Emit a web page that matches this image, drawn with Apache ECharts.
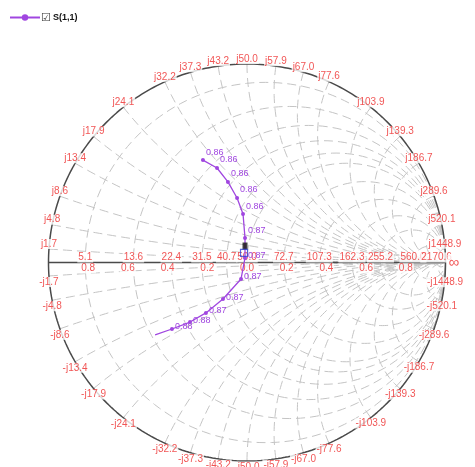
<!DOCTYPE html>
<html><head><meta charset="utf-8">
<script src="https://cdn.jsdelivr.net/npm/echarts@6/dist/echarts.min.js"></script>
<style>html,body{margin:0;padding:0;background:#fff}#c{width:475px;height:467px}</style>
</head><body><div id="c"></div>
<script>
// ---- data ----
const Z0 = 50;
const resistanceOhms = [5.1, 13.6, 22.4, 31.5, 40.7, 50.0, 72.7, 107.3, 162.3, 255.2, 560.0, 2170.6];
const reactanceOhms = [1.7, 4.8, 8.6, 13.4, 17.9, 24.1, 32.2, 37.3, 43.2, 50.0, 57.9, 67.0, 77.6, 103.9, 139.3, 186.7, 289.6, 520.1, 1448.9];
const gammaTicks = [-0.8, -0.6, -0.4, -0.2, 0.0, 0.2, 0.4, 0.6, 0.8];
const seriesName = 'S(1,1)';
// S11 reflection coefficient (real, imaginary) and point labels
const s11Re = [-0.222, -0.151, -0.096, -0.050, -0.020, -0.010, -0.010, -0.010, -0.030, -0.121, -0.207, -0.287, -0.378, -0.463];
const s11Im = [0.516, 0.476, 0.406, 0.325, 0.244, 0.123, 0.083, 0.023, -0.083, -0.184, -0.254, -0.300, -0.335, -0.365];
const s11Labels = ['0.86', '0.86', '0.86', '0.86', '0.86', '0.87', '', '0.87', '0.87', '0.87', '0.87', '0.88', '0.88', ''];
const markerBlack = [[-0.010, 0.083]];
const markerBlue = [[-0.015, 0.048]];

// ---- geometry helpers ----
function gammaOf(r, x) { // normalized z -> gamma
  const dr = r + 1, den = dr * dr + x * x;
  return [((r - 1) * (r + 1) + x * x) / den, (2 * x) / den];
}
function resistanceCircle(r) {
  const c = r / (1 + r), rad = 1 / (1 + r), pts = [];
  for (let i = 0; i <= 360; i += 2) { const a = i * Math.PI / 180; pts.push([c + rad * Math.cos(a), rad * Math.sin(a)]); }
  return pts;
}
function reactanceArc(x) {
  const s = Math.sign(x), ax = Math.abs(x), rad = 1 / ax;
  const P = gammaOf(0, ax);
  let a0 = Math.atan2(P[1] - rad, P[0] - 1); if (a0 < 0) a0 += 2 * Math.PI;
  const a1 = 1.5 * Math.PI, pts = [], n = 90;
  for (let i = 0; i <= n; i++) { const a = a0 + (a1 - a0) * i / n; pts.push([1 + rad * Math.cos(a), s * (rad + rad * Math.sin(a))]); }
  return pts;
}
function unitCircle() { const p = []; for (let i = 0; i <= 360; i++) { const a = i * Math.PI / 180; p.push([Math.cos(a), Math.sin(a)]); } return p; }

const gridStyle = { color: '#c4c4c4', width: 1, type: [9, 5] };
const series = [];
resistanceOhms.forEach(R => series.push({ type: 'line', data: resistanceCircle(R / Z0), showSymbol: false, silent: true, lineStyle: gridStyle, z: 1 }));
reactanceOhms.forEach(X => {
  series.push({ type: 'line', data: reactanceArc(X / Z0), showSymbol: false, silent: true, lineStyle: gridStyle, z: 1 });
  series.push({ type: 'line', data: reactanceArc(-X / Z0), showSymbol: false, silent: true, lineStyle: gridStyle, z: 1 });
});
// outer circle and real axis
series.push({ type: 'line', data: unitCircle(), showSymbol: false, silent: true, lineStyle: { color: '#4a4a4a', width: 1.5 }, z: 2 });
series.push({ type: 'line', data: [[-1, 0], [1, 0]], showSymbol: false, silent: true, lineStyle: { color: '#4a4a4a', width: 1.5 }, z: 2 });

const red = '#ee2a2a';
const lblBase = { show: true, color: red, fontSize: 10, fontFamily: 'Liberation Sans, Arial', backgroundColor: '#fff', padding: [0, 1] };
// perimeter reactance labels
const perim = [];
reactanceOhms.forEach(X => {
  perim.push({ value: gammaOf(0, X / Z0), name: 'j' + X.toFixed(1), label: Object.assign({}, lblBase, { position: 'top', distance: 0 }) });
  perim.push({ value: gammaOf(0, -X / Z0), name: '-j' + X.toFixed(1), label: Object.assign({}, lblBase, { position: 'bottom', distance: 1 }) });
});
series.push({ type: 'scatter', data: perim, symbolSize: 0, silent: true, z: 5, label: { formatter: p => p.name } });
// axis labels: resistance above, |gamma| below
const axisLbls = resistanceOhms.map(R => ({ value: [(R - Z0) / (R + Z0), 0], name: R.toFixed(1), label: Object.assign({}, lblBase, { position: 'top', distance: 0 }) }));
gammaTicks.forEach(g => axisLbls.push({ value: [g, 0], name: Math.abs(g).toFixed(1), label: Object.assign({}, lblBase, { position: 'bottom', distance: 1 }) }));
axisLbls.push({ value: [1, 0], name: '∞', label: Object.assign({}, lblBase, { position: 'right', distance: 2, fontSize: 15 }) });
series.push({ type: 'scatter', data: axisLbls, symbolSize: 0, silent: true, z: 5, label: { formatter: p => p.name } });

// S11 trace
const purple = '#a046e0';
const s11 = s11Re.map((re, i) => ({
  value: [re, s11Im[i]], name: s11Labels[i],
  symbolSize: s11Labels[i] ? 4 : 0,
  label: s11Im[i] > 0.1 ? { position: 'right', offset: [-1, -8] } : { position: 'right', offset: [-1, -2] }
}));
series.push({
  name: seriesName, type: 'line', data: s11, symbol: 'circle', showSymbol: true, z: 10,
  lineStyle: { color: purple, width: 1.3 }, itemStyle: { color: purple },
  label: { show: true, formatter: p => p.name, color: purple, fontSize: 9, fontFamily: 'Liberation Sans, Arial', distance: 2 }
});
series.push({ type: 'scatter', data: markerBlack, symbol: 'rect', symbolSize: [5, 7], itemStyle: { color: '#111' }, z: 11, silent: true });
series.push({ type: 'scatter', data: markerBlue, symbol: 'rect', symbolSize: 7, itemStyle: { color: 'rgba(0,0,0,0)', borderColor: '#3346d6', borderWidth: 1.2 }, z: 11, silent: true });

const chart = echarts.init(document.getElementById('c'), null, { renderer: 'canvas' });
chart.setOption({
  animation: false,
  grid: { left: 48.5, top: 64, width: 397, height: 397 },
  xAxis: { type: 'value', min: -1, max: 1, show: false },
  yAxis: { type: 'value', min: -1, max: 1, show: false },
  legend: {
    data: [seriesName], left: 4, top: 7, itemWidth: 30, itemHeight: 8, itemGap: 2, selectedMode: false,
    formatter: n => '{b|☑}{t|' + n + '}',
    textStyle: { padding: [0, 0, 0, -4], rich: { b: { fontSize: 11, color: '#333', padding: [0, 2, 0, 0] }, t: { fontSize: 9, fontWeight: 'bold', color: '#111', fontFamily: 'Liberation Sans, Arial' } } }
  },
  series: series
});
</script></body></html>
